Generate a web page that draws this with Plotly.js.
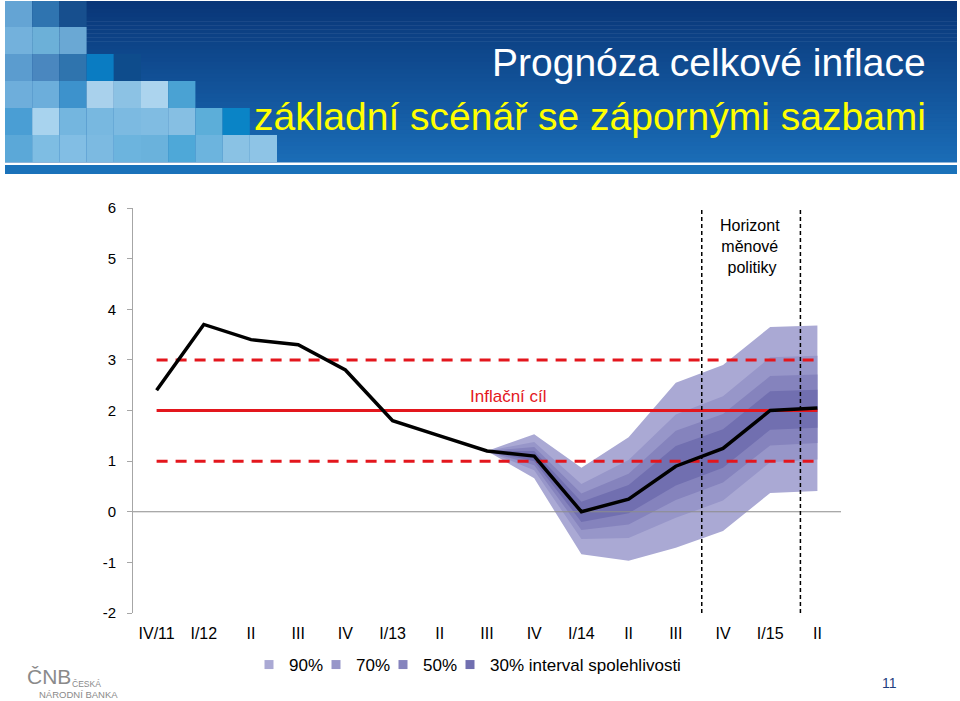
<!DOCTYPE html>
<html>
<head>
<meta charset="utf-8">
<script src="https://cdn.plot.ly/plotly-3.0.1.min.js"></script>
<style>
  html, body { margin: 0; padding: 0; background: #ffffff; }
  #chart { width: 960px; height: 701px; }
</style>
</head>
<body>
<div id="chart"></div>
<script>
// ---------------- DATA ----------------
const quarters = ['IV/11','I/12','II','III','IV','I/13','II','III','IV','I/14','II','III','IV','I/15','II'];
const inflation = [2.4, 3.7, 3.4, 3.3, 2.8, 1.8, 1.5, 1.2, 1.1, 0.0, 0.25, 0.9, 1.25, 2.0, 2.05];
const fanStart = 7; // fan chart starts at III/13
const band90Hi = [1.2, 1.53, 0.87, 1.47, 2.55, 2.90, 3.65, 3.68];
const band70Hi = [1.2, 1.38, 0.55, 1.02, 1.92, 2.28, 3.05, 3.08];
const band50Hi = [1.2, 1.28, 0.36, 0.75, 1.60, 1.93, 2.68, 2.71];
const band30Hi = [1.2, 1.20, 0.20, 0.53, 1.30, 1.63, 2.38, 2.41];
const band30Lo = [1.2, 1.00, -0.20, -0.03, 0.52, 0.87, 1.62, 1.66];
const band50Lo = [1.2, 0.92, -0.36, -0.25, 0.23, 0.58, 1.31, 1.36];
const band70Lo = [1.2, 0.82, -0.54, -0.52, -0.12, 0.22, 0.98, 1.03];
const band90Lo = [1.2, 0.66, -0.84, -0.97, -0.71, -0.38, 0.37, 0.41];
const inflationTarget = 2;
const toleranceBand = 1;
const horizonPositions = [11.55, 13.64];
const yTickValues = [-2, -1, 0, 1, 2, 3, 4, 5, 6];
const yTickLabels = ['-2', '-1', '0', '1', '2', '3', '4', '5', '6'];
const legendLabels = ['90%', '70%', '50%', '30% interval spolehlivosti'];

// ---------------- STYLE / LAYOUT ----------------
const L = 133, R = 119, T = 208, B = 88;
const W = 960 - L - R, H = 701 - T - B;
const fx = px => (px - L) / W;
const fy = py => 1 - (py - T) / H;

const fanColors = ['#aaa9d4', '#9796c9', '#8583bd', '#716fb0'];
const legendEntryWidths = [22, 22, 22, 200];
const red = '#e3161d';
const FONT = 'Liberation Sans, Arial, Helvetica, sans-serif';

const idx = quarters.map((_, i) => i);
const fanX = idx.slice(fanStart);

const bands = [
  [band90Hi, band90Lo],
  [band70Hi, band70Lo],
  [band50Hi, band50Lo],
  [band30Hi, band30Lo]
];

const traces = [];
bands.forEach((b, k) => {
  traces.push({
    x: fanX.concat(fanX.slice().reverse()),
    y: b[0].concat(b[1].slice().reverse()),
    type: 'scatter', mode: 'lines', fill: 'toself',
    fillcolor: fanColors[k], line: { width: 0, color: fanColors[k] },
    hoverinfo: 'skip', showlegend: false
  });
});

// zero axis line (drawn over the fan)
traces.push({
  x: [-0.5, 14.5], y: [0, 0], type: 'scatter', mode: 'lines',
  line: { color: '#8c8c8c', width: 1 }, hoverinfo: 'skip', showlegend: false
});

// target and tolerance band
[[inflationTarget + toleranceBand, 'dash'], [inflationTarget - toleranceBand, 'dash'], [inflationTarget, 'solid']].forEach(t => {
  traces.push({
    x: [idx[0], idx[idx.length - 1]], y: [t[0], t[0]], type: 'scatter', mode: 'lines',
    line: { color: red, width: 3, dash: t[1] === 'dash' ? '11px,8px' : 'solid' },
    hoverinfo: 'skip', showlegend: false
  });
});

// inflation line
traces.push({
  x: idx, y: inflation, type: 'scatter', mode: 'lines',
  line: { color: '#000000', width: 3.5 }, hoverinfo: 'skip', showlegend: false
});

// legend entries
legendLabels.forEach((lab, k) => {
  traces.push({
    x: [null], y: [null], type: 'scatter', mode: 'markers', name: lab,
    marker: { symbol: 'square', size: 9, color: fanColors[k] }, showlegend: true,
    legendwidth: legendEntryWidths[k]
  });
});

// ---------------- HEADER SHAPES ----------------
const shapes = [];
function rectPx(x0, y0, x1, y1, color) {
  shapes.push({
    type: 'rect', xref: 'paper', yref: 'paper', layer: 'below',
    x0: fx(x0), x1: fx(x1), y0: fy(y1), y1: fy(y0),
    fillcolor: color, line: { width: 0 }
  });
}
// vertical gradient background
const topC = [9, 54, 120], botC = [26, 108, 182];
const N = 40, hTop = 1, hBot = 162;
for (let i = 0; i < N; i++) {
  const t = i / (N - 1);
  const c = topC.map((v, j) => Math.round(v + (botC[j] - v) * t));
  const y0 = hTop + (hBot - hTop) * i / N;
  const y1 = hTop + (hBot - hTop) * (i + 1) / N + 0.6;
  rectPx(5, y0, 957, y1, 'rgb(' + c.join(',') + ')');
}
// mosaic squares
const mosaic = [
  ['#64a4d4', '#2f74b0', '#174f8e'],
  ['#73b1dc', '#6cb0d8', '#6aa8d4'],
  ['#5b9ccf', '#4a87bf', '#2f74ae', '#0a7cc2', '#0e4c8c'],
  ['#6eaedb', '#6caedb', '#3d92cc', '#a9d1ec', '#8cc2e4', '#acd4ee', '#4aa2d3'],
  ['#4a9ed4', '#a8d3ee', '#74b6df', '#78b8e0', '#7cbae1', '#80bce2', '#86bfe3', '#5caed9', '#0a84c6'],
  ['#5ba8d8', '#7ebde3', '#82bee4', '#7cbae1', '#6cb4de', '#6ab2dc', '#4ea8d8', '#6cb4de', '#8ac2e4', '#8ec4e6']
];
mosaic.forEach((row, r) => {
  row.forEach((col, c) => {
    const y0 = r === 0 ? 1 : r * 27;
    const y1 = r === 5 ? 162 : (r + 1) * 27;
    rectPx(5 + c * 27.2, y0, 5 + (c + 1) * 27.2, y1, col);
  });
});
// bottom bar of header
rectPx(5, 165, 957, 174, '#1a72ba');

// monetary policy horizon lines
horizonPositions.forEach(xp => {
  shapes.push({
    type: 'line', xref: 'x', yref: 'paper', layer: 'above',
    x0: xp, x1: xp, y0: 0, y1: 1,
    line: { color: '#000000', width: 1.5, dash: '4px,3px' }
  });
});

// ---------------- ANNOTATIONS ----------------
const annotations = [
  { text: 'Prognóza celkové inflace', x: fx(928), y: fy(63), xanchor: 'right', yanchor: 'middle',
    font: { size: 39, color: '#ffffff', family: FONT } },
  { text: 'základní scénář se zápornými sazbami', x: fx(928), y: fy(117), xanchor: 'right', yanchor: 'middle',
    font: { size: 39, color: '#ffff00', family: FONT } },
  { text: 'Inflační cíl', x: fx(508), y: fy(396), xanchor: 'center', yanchor: 'middle',
    font: { size: 17, color: red, family: FONT } },
  { text: 'Horizont<br>měnové<br> politiky', x: fx(750), y: fy(246), xanchor: 'center', yanchor: 'middle',
    font: { size: 16, color: '#000000', family: FONT } },
  { text: 'ČNB', x: fx(25), y: fy(676), xanchor: 'left', yanchor: 'middle',
    font: { size: 21, color: '#8a8a8a', family: FONT } },
  { text: 'ČESKÁ', x: fx(70), y: fy(684), xanchor: 'left', yanchor: 'middle',
    font: { size: 8.5, color: '#8a8a8a', family: FONT } },
  { text: 'NÁRODNÍ BANKA', x: fx(37), y: fy(694), xanchor: 'left', yanchor: 'middle',
    font: { size: 9.5, color: '#8a8a8a', family: FONT } },
  { text: '11', x: fx(889), y: fy(683), xanchor: 'center', yanchor: 'middle',
    font: { size: 14, color: '#1f3f7f', family: FONT } }
].map(a => Object.assign({ xref: 'paper', yref: 'paper', showarrow: false }, a));

const layout = {
  width: 960, height: 701,
  margin: { l: L, r: R, t: T, b: B, pad: 0 },
  paper_bgcolor: '#ffffff', plot_bgcolor: 'rgba(0,0,0,0)',
  font: { family: FONT, color: '#000000' },
  showlegend: true,
  xaxis: {
    range: [-0.5, 14.5], tickmode: 'array', tickvals: idx, ticktext: quarters,
    showgrid: false, zeroline: false, showline: false, ticks: '',
    tickfont: { size: 16, color: '#000000' }, ticklabelstandoff: 9, fixedrange: true
  },
  yaxis: {
    range: [-2, 6], tickmode: 'array', tickvals: yTickValues, ticktext: yTickLabels,
    showgrid: false, zeroline: false,
    showline: true, linecolor: '#a6a6a6', linewidth: 1,
    ticks: 'outside', ticklen: 5, tickcolor: '#a6a6a6', tickwidth: 1,
    tickfont: { size: 15, color: '#000000' }, ticklabelstandoff: 8, fixedrange: true
  },
  legend: {
    orientation: 'h', x: fx(249), xanchor: 'left', y: fy(665), yanchor: 'middle',
    font: { size: 17, color: '#000000' }, itemwidth: 30,
    bgcolor: 'rgba(0,0,0,0)', traceorder: 'normal'
  },
  shapes: shapes,
  annotations: annotations
};

Plotly.newPlot('chart', traces, layout, { displayModeBar: false, staticPlot: true });
</script>
</body>
</html>
